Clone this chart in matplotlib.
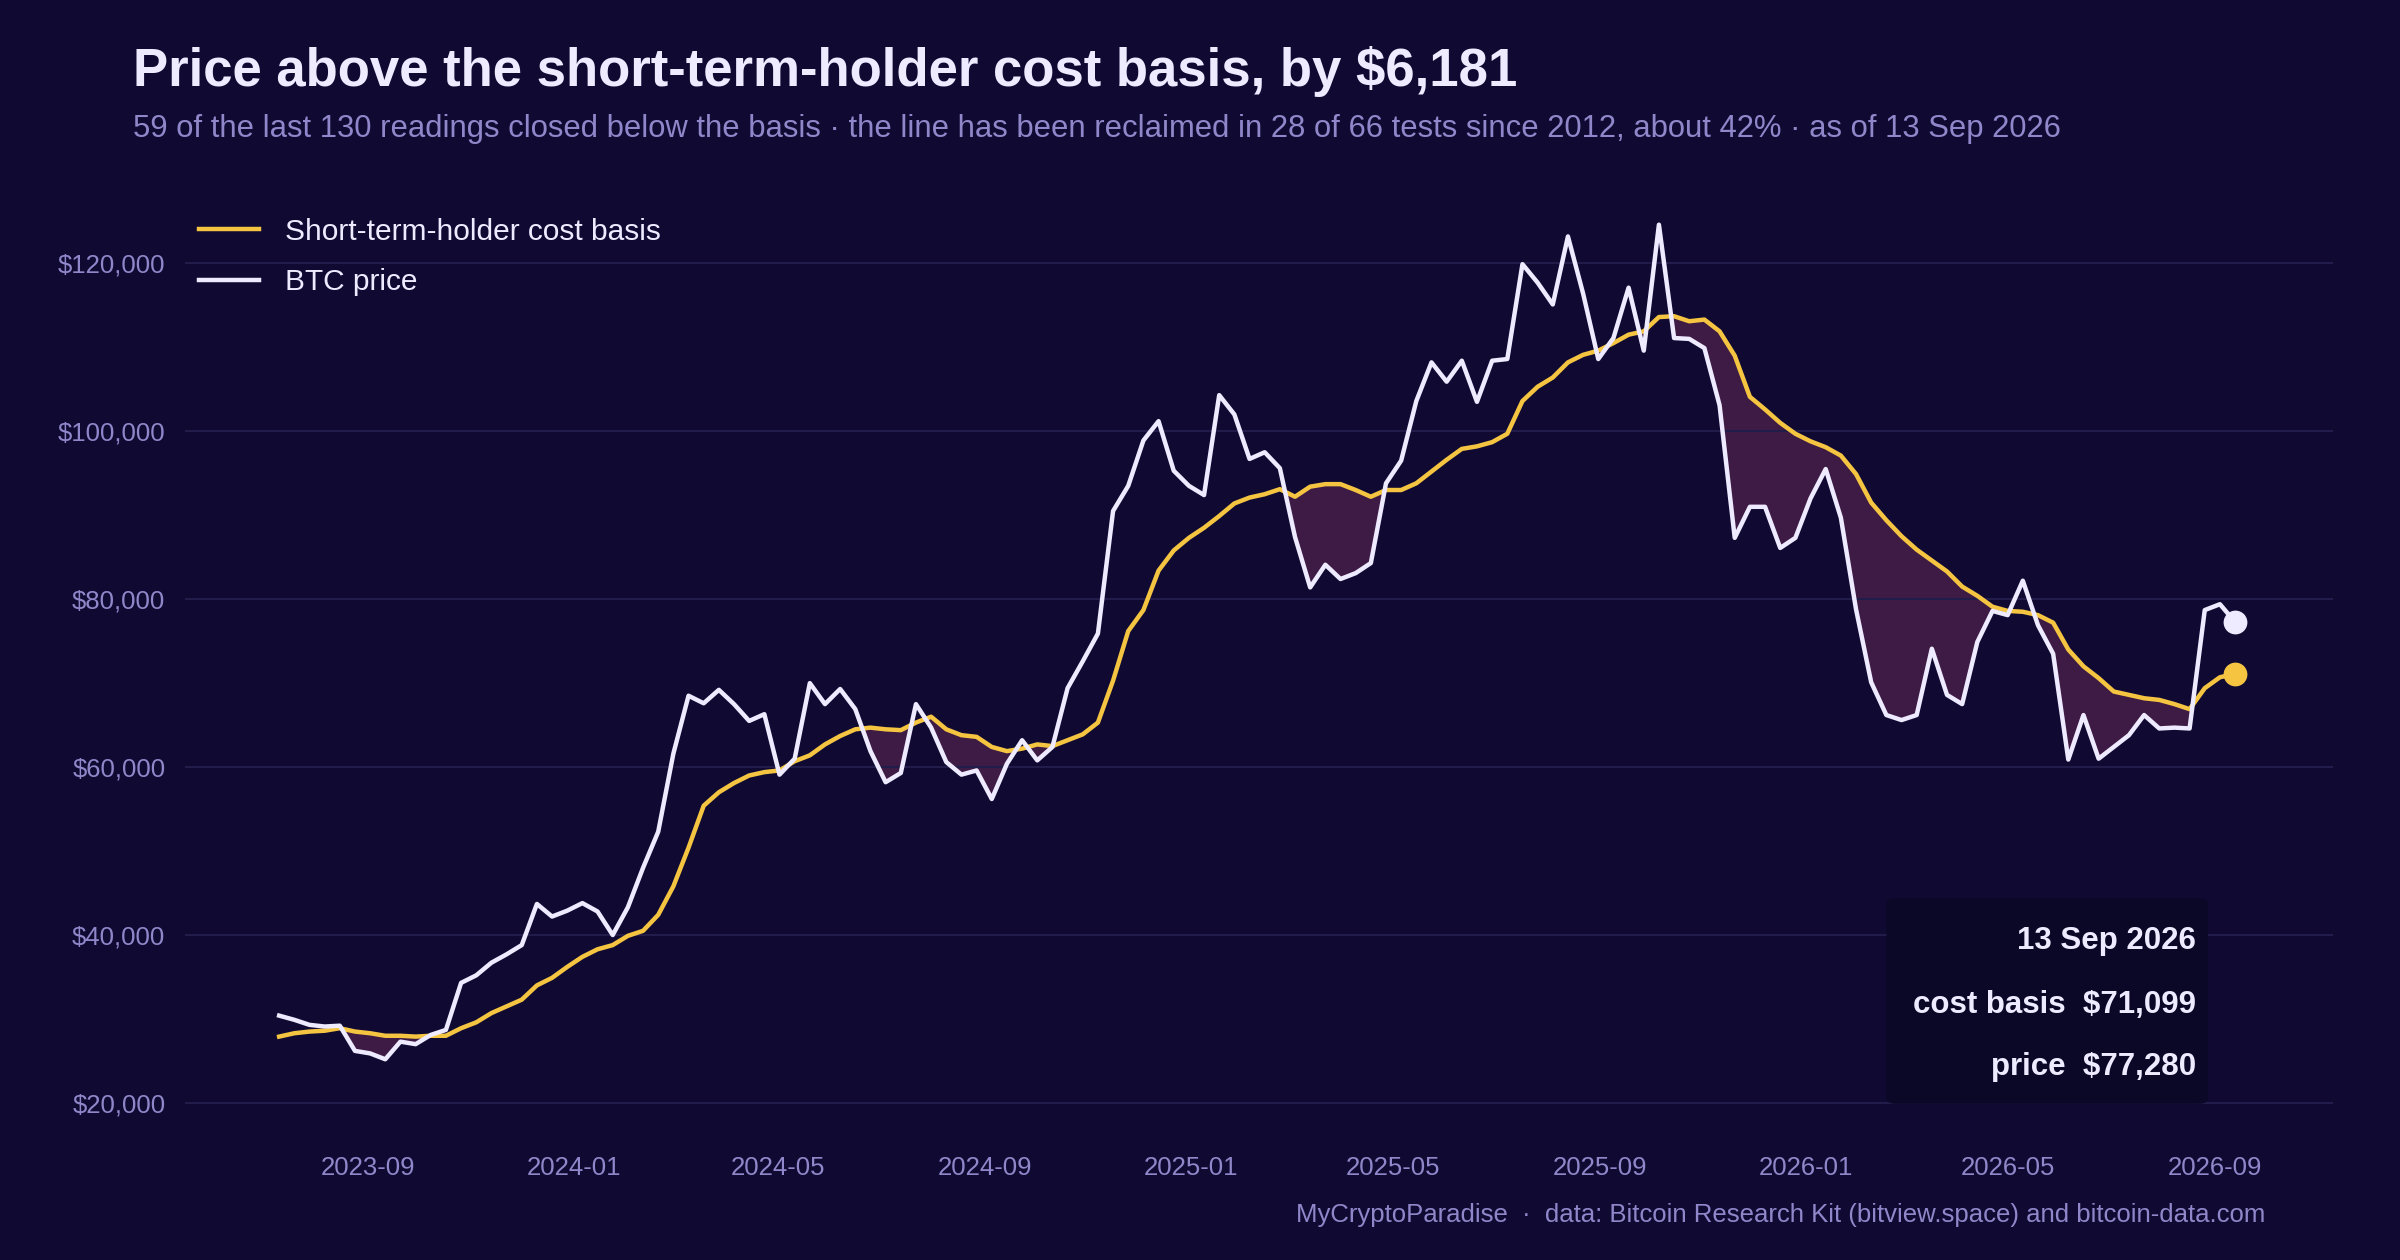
import numpy as np
import pandas as pd
import matplotlib
matplotlib.use('Agg')
import matplotlib.pyplot as plt
import matplotlib.dates as mdates
from matplotlib.patches import FancyBboxPatch
from matplotlib.ticker import FuncFormatter

# 130 readings, ending 13 Sep 2026 (values in $ thousands)
dates = pd.date_range(end='2026-09-13', periods=130, freq='9D')

price = [30.4, 29.9, 29.3, 29.1, 29.2, 26.2, 25.9, 25.2, 27.3, 27.0,
         28.1, 28.7, 34.3, 35.2, 36.7, 37.7, 38.8, 43.7, 42.2, 42.9,
         43.8, 42.8, 40.0, 43.3, 48.0, 52.3, 61.6, 68.5, 67.6, 69.2,
         67.5, 65.5, 66.3, 59.1, 61.0, 70.0, 67.5, 69.3, 66.9, 61.9,
         58.2, 59.3, 67.5, 64.7, 60.6, 59.1, 59.6, 56.2, 60.4, 63.2,
         60.8, 62.4, 69.4, 72.6, 75.9, 90.5, 93.5, 98.9, 101.2, 95.3,
         93.5, 92.4, 104.3, 102.0, 96.7, 97.5, 95.6, 87.4, 81.4, 84.1,
         82.4, 83.1, 84.3, 93.8, 96.5, 103.6, 108.2, 105.9, 108.4, 103.5,
         108.4, 108.6, 119.9, 117.7, 115.1, 123.2, 116.4, 108.6, 111.1, 117.1,
         109.6, 124.6, 111.1, 111.0, 109.9, 103.1, 87.3, 91.0, 91.0, 86.1,
         87.3, 92.0, 95.5, 89.7, 78.8, 70.1, 66.2, 65.6, 66.2, 74.1,
         68.6, 67.5, 74.9, 78.6, 78.1, 82.2, 76.9, 73.5, 60.9, 66.2,
         61.0, 62.4, 63.8, 66.2, 64.6, 64.7, 64.6, 78.7, 79.4, 77.28]

basis = [27.9, 28.3, 28.5, 28.6, 28.9, 28.5, 28.3, 28.0, 28.0, 27.9,
         28.0, 28.0, 28.9, 29.6, 30.7, 31.5, 32.3, 34.0, 34.9, 36.2,
         37.4, 38.3, 38.8, 39.9, 40.5, 42.4, 45.8, 50.4, 55.4, 57.0,
         58.1, 59.0, 59.4, 59.6, 60.7, 61.4, 62.7, 63.7, 64.5, 64.7,
         64.5, 64.4, 65.3, 66.0, 64.5, 63.8, 63.6, 62.4, 61.9, 62.2,
         62.7, 62.5, 63.2, 63.9, 65.3, 70.3, 76.2, 78.7, 83.4, 85.8,
         87.3, 88.5, 89.9, 91.4, 92.1, 92.5, 93.1, 92.2, 93.4, 93.7,
         93.7, 93.0, 92.2, 93.0, 93.0, 93.8, 95.2, 96.6, 97.9, 98.2,
         98.7, 99.7, 103.6, 105.3, 106.4, 108.2, 109.1, 109.6, 110.5, 111.5,
         111.9, 113.6, 113.7, 113.1, 113.3, 111.9, 109.0, 104.1, 102.6, 101.0,
         99.7, 98.8, 98.1, 97.1, 94.9, 91.5, 89.4, 87.5, 85.9, 84.6,
         83.3, 81.5, 80.4, 79.1, 78.6, 78.5, 78.1, 77.2, 74.0, 72.0,
         70.6, 69.0, 68.6, 68.2, 68.0, 67.5, 66.9, 69.4, 70.7, 71.099]

price = np.array(price) * 1000
basis = np.array(basis) * 1000

BG = '#100a33'
GOLD = '#f5c542'
WHITE = '#eeeaff'
MUTED = '#8f87c9'

plt.rcParams['font.family'] = ['Liberation Sans', 'DejaVu Sans']

fig = plt.figure(figsize=(24, 12.6), dpi=100, facecolor=BG)
ax = fig.add_axes([0.077, 0.098, 0.895, 0.733], facecolor=BG)

ax.fill_between(dates, price, basis, where=price < basis, interpolate=True,
                color='#3e1b44', linewidth=0, zorder=1)
ax.plot(dates, basis, color=GOLD, lw=3.2, label='Short-term-holder cost basis', zorder=3)
ax.plot(dates, price, color=WHITE, lw=3.2, label='BTC price', zorder=4)
ax.scatter([dates[-1]], [basis[-1]], s=260, color=GOLD, zorder=5)
ax.scatter([dates[-1]], [price[-1]], s=260, color=WHITE, zorder=5)

ax.set_ylim(16000, 126000)
ax.set_xlim(pd.Timestamp('2023-05-15'), pd.Timestamp('2026-11-10'))
ax.set_yticks([20000, 40000, 60000, 80000, 100000, 120000])
ax.yaxis.set_major_formatter(FuncFormatter(lambda v, p: f'${v:,.0f}'))
ax.xaxis.set_major_locator(mdates.MonthLocator(bymonth=[1, 5, 9]))
ax.xaxis.set_major_formatter(mdates.DateFormatter('%Y-%m'))
ax.grid(axis='y', color='#221c4a', lw=1.5)
ax.tick_params(colors=MUTED, labelsize=18.5, length=0, pad=14)
for s in ax.spines.values():
    s.set_visible(False)

leg = ax.legend(loc='upper left', bbox_to_anchor=(-0.006, 1.024), frameon=False,
                fontsize=21.5, handlelength=2.0, handletextpad=0.9, labelspacing=0.75)
for t in leg.get_texts():
    t.set_color(WHITE)

fig.text(0.0555, 0.943, 'Price above the short-term-holder cost basis, by $6,181',
         color=WHITE, fontsize=38, fontweight='bold', va='center')
fig.text(0.0555, 0.898, '59 of the last 130 readings closed below the basis · the line has been reclaimed '
         'in 28 of 66 tests since 2012, about 42% · as of 13 Sep 2026',
         color=MUTED, fontsize=22.3, va='center')
fig.text(0.944, 0.036, 'MyCryptoParadise  ·  data: Bitcoin Research Kit (bitview.space) and bitcoin-data.com',
         color=MUTED, fontsize=18.5, ha='right', va='center')

# tooltip box
box = FancyBboxPatch((0.786, 0.124), 0.134, 0.163, transform=fig.transFigure,
                     boxstyle='round,pad=0,rounding_size=0.004',
                     facecolor='#0b0727', edgecolor='none', zorder=6)
fig.patches.append(box)
for y, s in [(0.253, '13 Sep 2026'), (0.202, 'cost basis  $71,099'), (0.153, 'price  $77,280')]:
    fig.text(0.915, y, s, color=WHITE, fontsize=22.5, fontweight='bold',
             ha='right', va='center', zorder=10)

fig.savefig('out.png', dpi=100, facecolor=BG)
